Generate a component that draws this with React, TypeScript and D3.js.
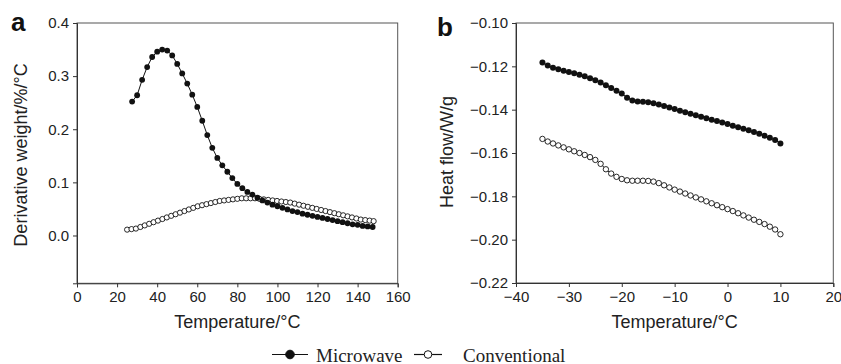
import React, { useEffect, useRef } from 'react';
import * as d3 from 'd3';

// Panel a: derivative weight vs temperature
const mwTempA = [27.5, 30, 32.5, 35, 37.5, 40, 42.5, 45, 47.5, 50, 52.5, 55, 57.5, 60, 62.5, 65, 67.5, 70, 72.5, 75,
  77.5, 80, 82.5, 85, 87.5, 90, 92.5, 95, 97.5, 100, 102.5, 105, 107.5, 110, 112.5, 115, 117.5, 120, 122.5, 125,
  127.5, 130, 132.5, 135, 137.5, 140, 142.5, 145, 147.5];
const mwDerivA = [0.252, 0.264, 0.293, 0.317, 0.336, 0.346, 0.350, 0.348, 0.339, 0.323, 0.305, 0.286, 0.265, 0.242,
  0.216, 0.189, 0.165, 0.146, 0.132, 0.120, 0.108, 0.097, 0.089, 0.082, 0.077, 0.071, 0.066, 0.062, 0.058, 0.055,
  0.052, 0.049, 0.046, 0.044, 0.041, 0.039, 0.037, 0.035, 0.033, 0.031, 0.029, 0.027, 0.025, 0.023, 0.021, 0.020,
  0.018, 0.017, 0.016];
const convTempA = [25.0, 27.2, 29.4, 31.6, 33.8, 36.0, 38.2, 40.4, 42.6, 44.8, 47.0, 49.2, 51.4, 53.6, 55.8, 58.0,
  60.2, 62.4, 64.6, 66.8, 69.0, 71.2, 73.4, 75.6, 77.8, 80.0, 82.2, 84.4, 86.6, 88.8, 91.0, 93.2, 95.4, 97.6, 99.8,
  102.0, 104.2, 106.4, 108.6, 110.8, 113.0, 115.2, 117.4, 119.6, 121.8, 124.0, 126.2, 128.4, 130.6, 132.8, 135.0,
  137.2, 139.4, 141.6, 143.8, 146.0, 148.0];
const convDerivA = [0.011, 0.012, 0.013, 0.016, 0.019, 0.022, 0.025, 0.028, 0.031, 0.034, 0.037, 0.040, 0.043,
  0.046, 0.049, 0.052, 0.055, 0.057, 0.059, 0.061, 0.063, 0.065, 0.066, 0.067, 0.068, 0.069, 0.070, 0.070, 0.070,
  0.070, 0.069, 0.068, 0.067, 0.066, 0.065, 0.064, 0.063, 0.062, 0.060, 0.058, 0.056, 0.054, 0.052, 0.050, 0.048,
  0.046, 0.044, 0.042, 0.040, 0.038, 0.036, 0.034, 0.032, 0.030, 0.029, 0.028, 0.027];

// Panel b: heat flow vs temperature
const tempB = [-35, -34, -33, -32, -31, -30, -29, -28, -27, -26, -25, -24, -23, -22, -21, -20, -19, -18, -17, -16,
  -15, -14, -13, -12, -11, -10, -9, -8, -7, -6, -5, -4, -3, -2, -1, 0, 1, 2, 3, 4, 5, 6, 7, 8, 9, 10];
const mwHeatB = [-0.1182, -0.1196, -0.1206, -0.1213, -0.1220, -0.1226, -0.1232, -0.1239, -0.1246, -0.1255, -0.1264,
  -0.1275, -0.1287, -0.1300, -0.1313, -0.1325, -0.1345, -0.1358, -0.1362, -0.1364, -0.1366, -0.1370, -0.1376,
  -0.1383, -0.1390, -0.1397, -0.1405, -0.1412, -0.1419, -0.1426, -0.1433, -0.1440, -0.1446, -0.1452, -0.1459,
  -0.1466, -0.1474, -0.1481, -0.1488, -0.1495, -0.1503, -0.1511, -0.1520, -0.1530, -0.1540, -0.1556];
const convHeatB = [-0.1535, -0.1547, -0.1556, -0.1565, -0.1574, -0.1583, -0.1592, -0.1600, -0.1609, -0.1619,
  -0.1632, -0.1650, -0.1675, -0.1695, -0.1710, -0.1720, -0.1726, -0.1728, -0.1728, -0.1728, -0.1729, -0.1732,
  -0.1739, -0.1749, -0.1759, -0.1769, -0.1778, -0.1787, -0.1796, -0.1805, -0.1814, -0.1823, -0.1832, -0.1841,
  -0.1850, -0.1859, -0.1868, -0.1878, -0.1888, -0.1898, -0.1908, -0.1918, -0.1928, -0.1940, -0.1953, -0.1975];

const xTicksA = [0, 20, 40, 60, 80, 100, 120, 140, 160];
const yTicksA = [0.0, 0.1, 0.2, 0.3, 0.4];
const xTicksB = [-40, -30, -20, -10, 0, 10, 20];
const yTicksB = [-0.22, -0.20, -0.18, -0.16, -0.14, -0.12, -0.10];

const legendLabels = ['Microwave', 'Conventional'];

const SANS = '"Liberation Sans", Arial, Helvetica, sans-serif';
const SERIF = '"Liberation Serif", "Times New Roman", serif';
const AXIS = '#333';

const zip = (xs: number[], ys: number[]) => xs.map((x, i) => ({ x, y: ys[i] }));

const App = () => {
  const svgRef = useRef<SVGSVGElement>(null);

  useEffect(() => {
    const svg = d3.select(svgRef.current);
    svg.selectAll('*').remove();

    const panels = [
      {
        letter: 'a', letterX: 11, letterY: 30.5,
        left: 77, right: 397.7, top: 23, bottom: 283.3,
        xDomain: [0, 160], yDomain: [-0.09, 0.4],
        xTicks: xTicksA, yTicks: yTicksA, yFmt: '.1f',
        yTitle: 'Derivative weight/%/°C', yTitleX: 27, yTitleY: 155,
        mw: zip(mwTempA, mwDerivA), conv: zip(convTempA, convDerivA),
        rFill: 2.9, rOpen: 2.6
      },
      {
        letter: 'b', letterX: 437, letterY: 36,
        left: 516, right: 833.3, top: 23, bottom: 283,
        xDomain: [-40, 20], yDomain: [-0.22, -0.10],
        xTicks: xTicksB, yTicks: yTicksB, yFmt: '.2f',
        yTitle: 'Heat flow/W/g', yTitleX: 453, yTitleY: 152,
        mw: zip(tempB, mwHeatB), conv: zip(tempB, convHeatB),
        rFill: 3, rOpen: 2.7
      }
    ];

    panels.forEach(p => {
      const x = d3.scaleLinear().domain(p.xDomain).range([p.left, p.right]);
      const y = d3.scaleLinear().domain(p.yDomain).range([p.bottom, p.top]);

      // frame
      svg.append('rect')
        .attr('x', p.left).attr('y', p.top)
        .attr('width', p.right - p.left).attr('height', p.bottom - p.top)
        .attr('fill', 'none').attr('stroke', '#555').attr('stroke-width', 1);

      const xAxis = svg.append('g')
        .attr('transform', `translate(0,${p.bottom})`)
        .call(d3.axisBottom(x).tickValues(p.xTicks).tickSize(4).tickPadding(4).tickFormat(d3.format('d')));
      const yAxis = svg.append('g')
        .attr('transform', `translate(${p.left},0)`)
        .call(d3.axisLeft(y).tickValues(p.yTicks).tickSize(4).tickPadding(4).tickFormat(d3.format(p.yFmt)));

      [xAxis, yAxis].forEach(g => {
        g.attr('font-family', SANS).attr('font-size', 15);
        g.selectAll('path, line').attr('stroke', AXIS);
        g.selectAll('text').attr('fill', '#222');
      });

      // series lines
      const line = d3.line<{ x: number; y: number }>().x(d => x(d.x)).y(d => y(d.y));
      [p.conv, p.mw].forEach(s => {
        svg.append('path')
          .attr('d', line(s))
          .attr('fill', 'none').attr('stroke', '#111').attr('stroke-width', 1);
      });

      svg.append('g').selectAll('circle').data(p.conv).enter().append('circle')
        .attr('cx', d => x(d.x)).attr('cy', d => y(d.y)).attr('r', p.rOpen)
        .attr('fill', '#fff').attr('stroke', '#111').attr('stroke-width', 0.9);

      svg.append('g').selectAll('circle').data(p.mw).enter().append('circle')
        .attr('cx', d => x(d.x)).attr('cy', d => y(d.y)).attr('r', p.rFill)
        .attr('fill', '#111');

      // titles
      svg.append('text')
        .attr('x', (p.left + p.right) / 2).attr('y', 328)
        .attr('text-anchor', 'middle').attr('font-family', SANS).attr('font-size', 18).attr('fill', '#222')
        .text('Temperature/°C');

      svg.append('text')
        .attr('transform', `translate(${p.yTitleX},${p.yTitleY}) rotate(-90)`)
        .attr('text-anchor', 'middle').attr('font-family', SANS).attr('font-size', 18).attr('fill', '#222')
        .text(p.yTitle);

      svg.append('text')
        .attr('x', p.letterX).attr('y', p.letterY)
        .attr('font-family', SANS).attr('font-size', 26).attr('font-weight', 'bold').attr('fill', '#111')
        .text(p.letter);
    });

    // legend
    const legendY = 354.5;
    const items = [
      { x1: 272, x2: 308, cx: 290, textX: 316, filled: true },
      { x1: 414, x2: 442, cx: 428, textX: 463, filled: false }
    ];
    items.forEach((it, i) => {
      svg.append('line')
        .attr('x1', it.x1).attr('x2', it.x2).attr('y1', legendY).attr('y2', legendY)
        .attr('stroke', '#111').attr('stroke-width', 1.2);
      svg.append('circle')
        .attr('cx', it.cx).attr('cy', legendY).attr('r', it.filled ? 4.3 : 3.8)
        .attr('fill', it.filled ? '#111' : '#fff').attr('stroke', '#111').attr('stroke-width', 1);
      svg.append('text')
        .attr('x', it.textX).attr('y', 361.5)
        .attr('font-family', SERIF).attr('font-size', 19).attr('fill', '#222')
        .text(legendLabels[i]);
    });
  }, []);

  return (
    <div style={{ position: 'fixed', left: 0, top: 0, background: '#fff' }}>
      <svg ref={svgRef} width={841} height={364} style={{ display: 'block' }} />
    </div>
  );
};

export default App;
